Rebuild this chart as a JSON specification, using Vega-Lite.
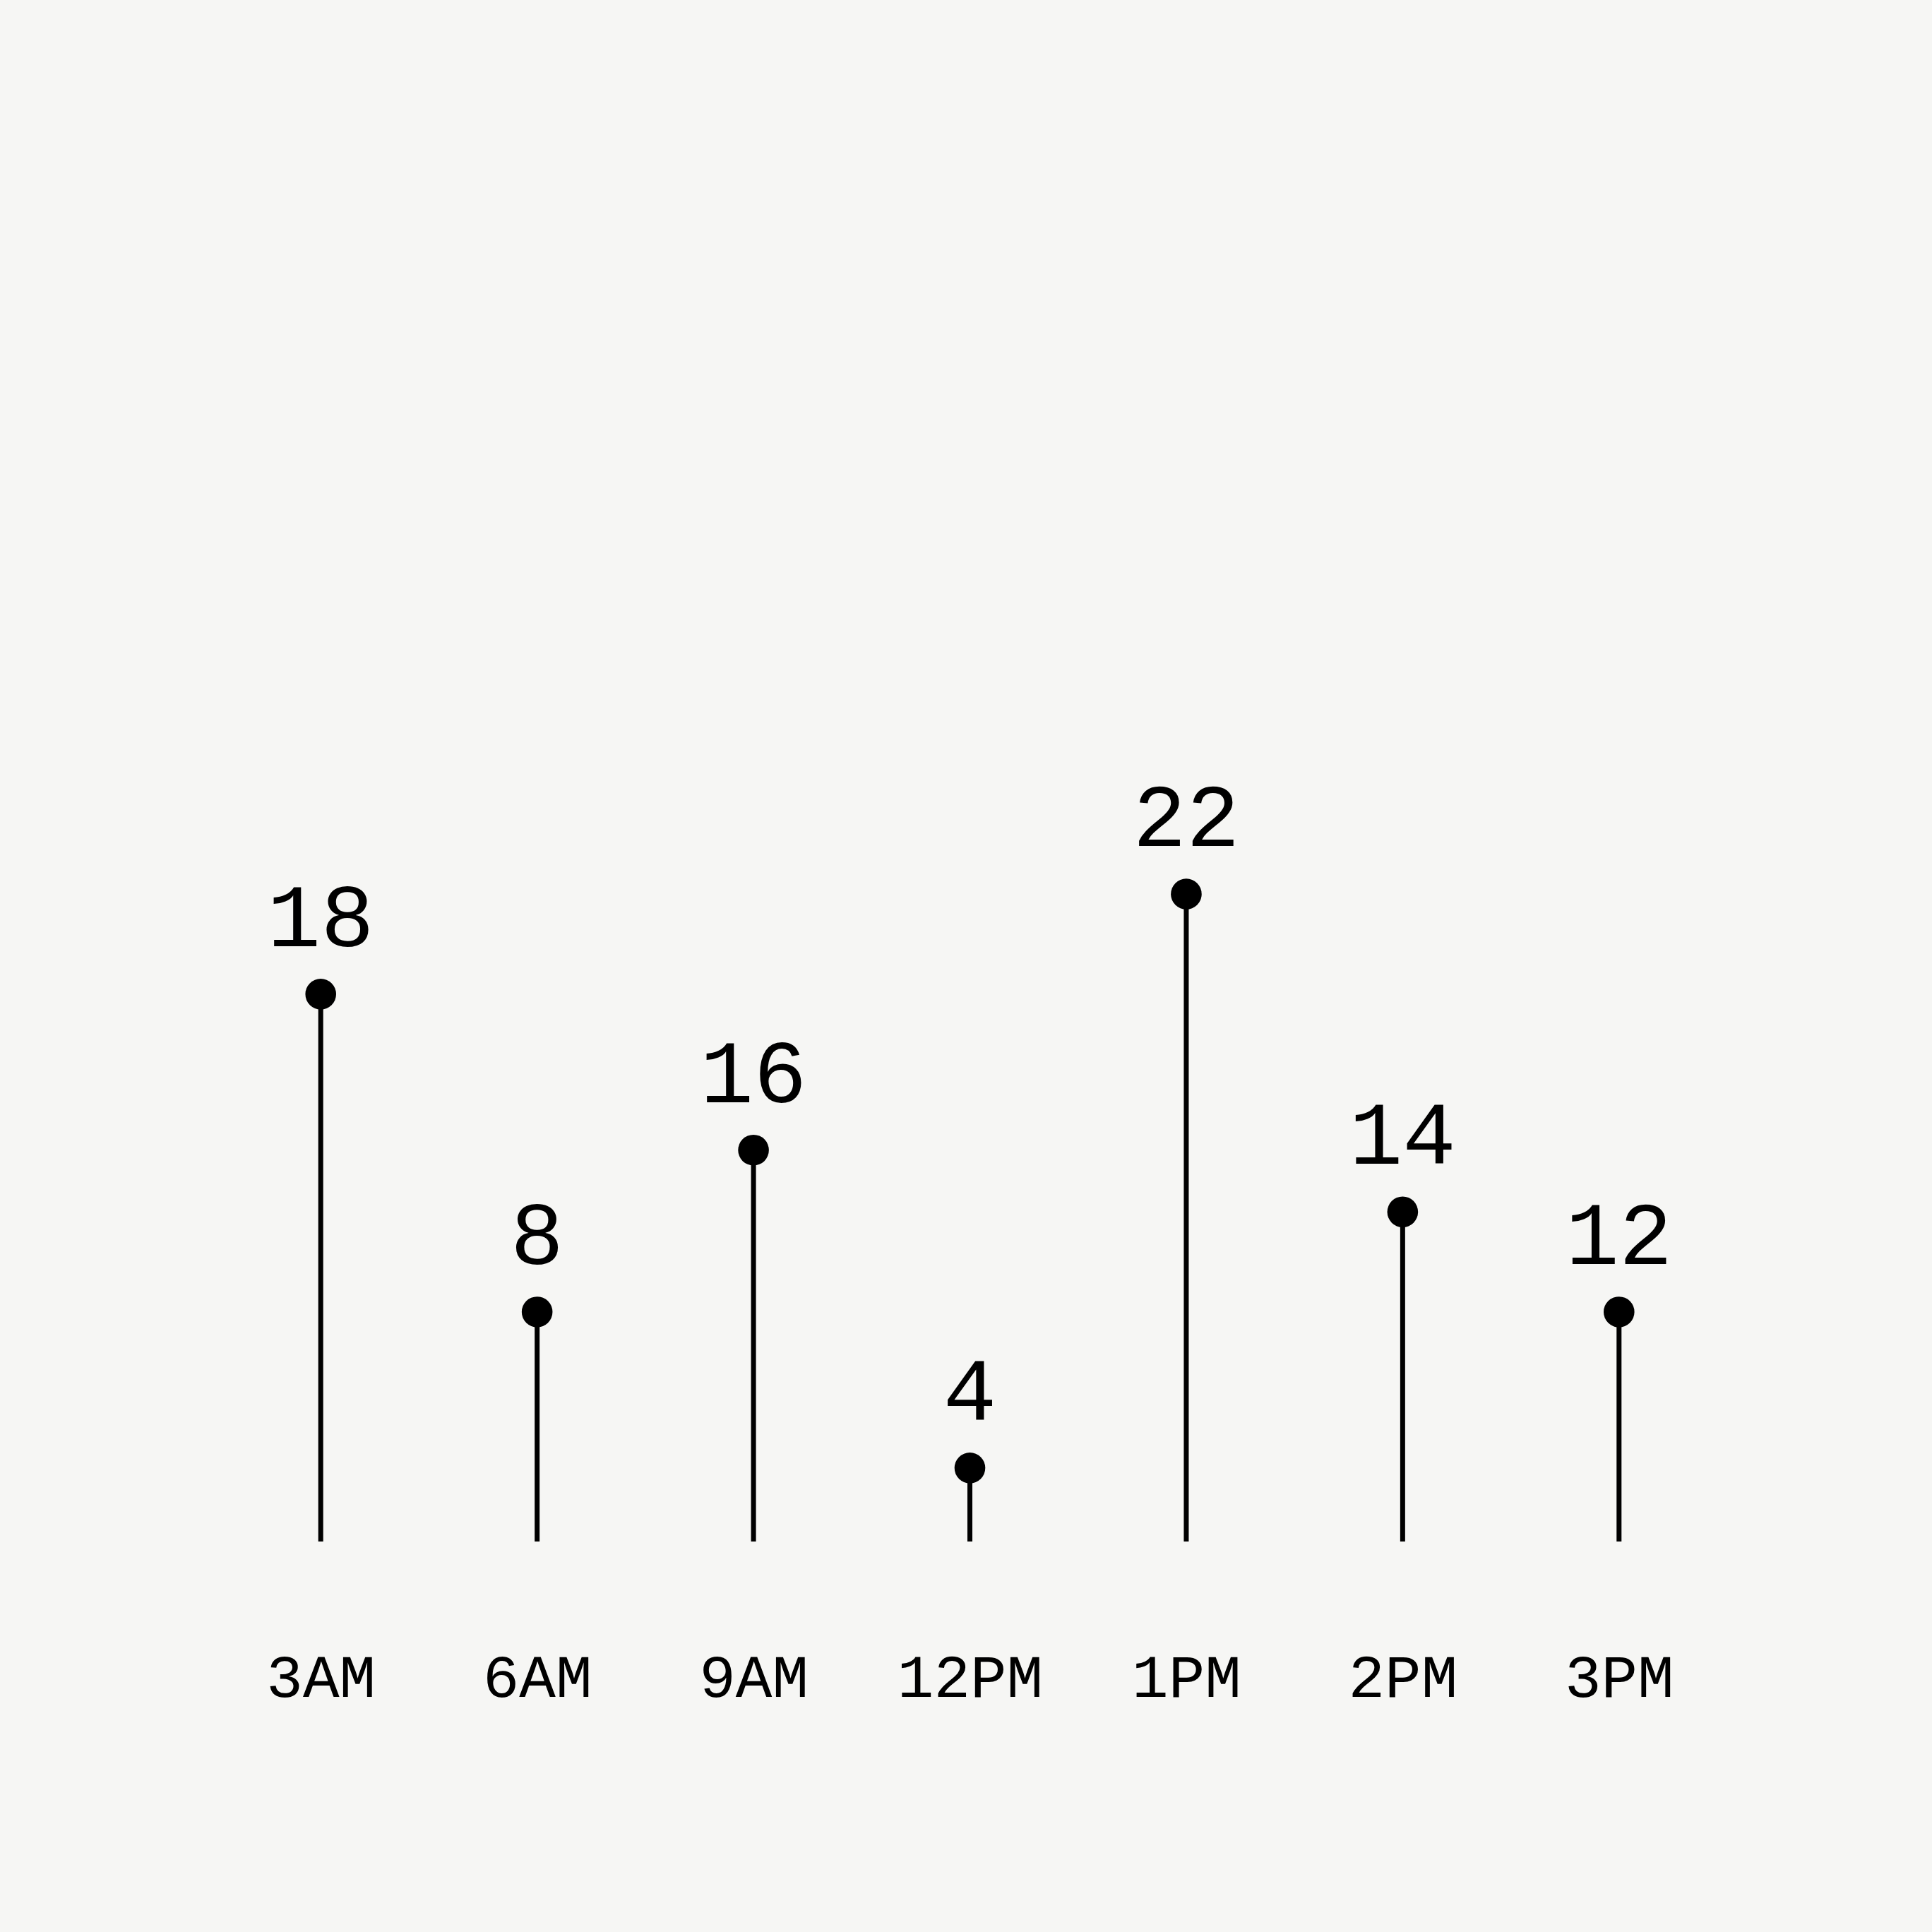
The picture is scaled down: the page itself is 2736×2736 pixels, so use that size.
{
  "$schema": "https://vega.github.io/schema/vega-lite/v6.json",
  "autosize": {"type": "none"},
  "padding": {"left": 301, "top": 516, "right": 290, "bottom": 553},
  "width": 2145,
  "height": 1667,
  "background": "#f6f6f4",
  "config": {"view": {"stroke": null}},
  "data": {
    "values": [
      {"hour": "3AM", "label": 18, "height": 18.6},
      {"hour": "6AM", "label": 8, "height": 7.8},
      {"hour": "9AM", "label": 16, "height": 13.3},
      {"hour": "12PM", "label": 4, "height": 2.5},
      {"hour": "1PM", "label": 22, "height": 22},
      {"hour": "2PM", "label": 14, "height": 11.2},
      {"hour": "3PM", "label": 12, "height": 7.8}
    ]
  },
  "encoding": {
    "x": {
      "field": "hour",
      "type": "nominal",
      "sort": null,
      "scale": {"type": "point", "padding": 0.5},
      "axis": {
        "title": null,
        "domain": false,
        "ticks": false,
        "tickSize": 0,
        "grid": false,
        "labelAngle": 0,
        "labelFont": "Liberation Mono",
        "labelFontSize": 86,
        "labelColor": "#000000",
        "labelBaseline": "alphabetic",
        "labelPadding": 219,
        "labelLimit": 0,
        "labelOverlap": false
      }
    }
  },
  "layer": [
    {
      "mark": {"type": "rule", "color": "#000000", "strokeWidth": 7},
      "encoding": {
        "y": {"field": "height", "type": "quantitative", "scale": {"domain": [0, 40]}, "axis": null},
        "y2": {"datum": 0}
      }
    },
    {
      "mark": {"type": "circle", "color": "#000000", "opacity": 1, "size": 1900},
      "encoding": {
        "y": {"field": "height", "type": "quantitative"}
      }
    },
    {
      "mark": {
        "type": "text",
        "font": "Liberation Mono",
        "fontSize": 126,
        "color": "#000000",
        "align": "center",
        "baseline": "alphabetic",
        "dy": -68
      },
      "encoding": {
        "y": {"field": "height", "type": "quantitative"},
        "text": {"field": "label", "type": "quantitative"}
      }
    }
  ]
}
